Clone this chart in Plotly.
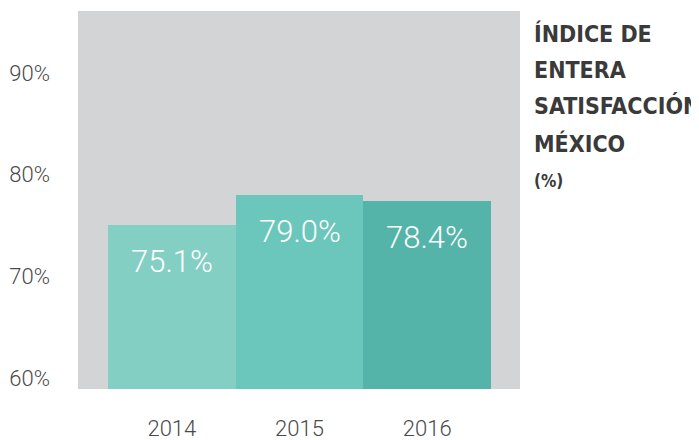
import plotly.graph_objects as go

years = ["2014", "2015", "2016"]
bar_heights = [75.0, 78.0, 77.4]          # bar tops as drawn in the picture
bar_labels = ["75.1%", "79.0%", "78.4%"]   # labels printed on the bars
bar_colors = ["#84cfc4", "#6bc6bb", "#55b4a9"]
y_ticks = [60, 70, 80, 90]
y_tick_text = ["60%", "70%", "80%", "90%"]
title_lines = ["ÍNDICE DE", "ENTERA", "SATISFACCIÓN", "MÉXICO"]
title_unit = "(%)"

LIGHT = "Roboto"
COND = "DejaVu Sans Condensed, Liberation Sans Narrow, sans-serif"

# page offset compensation (body margin of the page)
OFF = 8
PLOT_L, PLOT_R, PLOT_T, PLOT_B = 78 - OFF, 520 - OFF, 11 - OFF, 389 - OFF

fig = go.Figure()
fig.add_trace(go.Bar(
    x=years, y=bar_heights, width=1.0,
    marker=dict(color=bar_colors, line=dict(width=0)),
    hoverinfo="skip",
))

annotations = []
for i, (h, lab) in enumerate(zip(bar_heights, bar_labels)):
    annotations.append(dict(
        x=i, y=h, xref="x", yref="y", text=lab, showarrow=False,
        yanchor="top", yshift=-16,
        font=dict(family=LIGHT, size=31, color="white", weight=300),
    ))

line_centers_px = [33, 69.5, 106, 143.5]
for txt, cy in zip(title_lines, line_centers_px):
    annotations.append(dict(
        x=1.027, y=(389 - cy) / 378, xref="paper", yref="paper", text=txt,
        showarrow=False, xanchor="left", yanchor="middle", align="left",
        font=dict(family=COND, size=23, color="#3a3a3a", weight=700),
    ))
annotations.append(dict(
    x=1.027, y=(389 - 181) / 378, xref="paper", yref="paper", text=title_unit,
    showarrow=False, xanchor="left", yanchor="middle", align="left",
    font=dict(family=COND, size=17, color="#3a3a3a", weight=700),
))

fig.update_layout(
    width=699, height=440,
    margin=dict(l=PLOT_L, r=699 - PLOT_R, t=PLOT_T, b=440 - PLOT_B),
    paper_bgcolor="white", plot_bgcolor="#d3d4d6",
    showlegend=False, bargap=0,
    annotations=annotations,
    xaxis=dict(
        type="category", range=[-0.735, 2.727], showgrid=False, zeroline=False,
        showline=False, ticks="", ticklabelstandoff=24, automargin=False,
        tickfont=dict(family=LIGHT, size=22, color="#4a4a4a", weight=300),
    ),
    yaxis=dict(
        range=[58.9, 96.1], tickvals=y_ticks, ticktext=y_tick_text,
        showgrid=False, zeroline=False, showline=False, ticks="",
        ticklabelstandoff=27, automargin=False,
        tickfont=dict(family=LIGHT, size=22, color="#4a4a4a", weight=300),
    ),
)

fig.write_html("out.html")
